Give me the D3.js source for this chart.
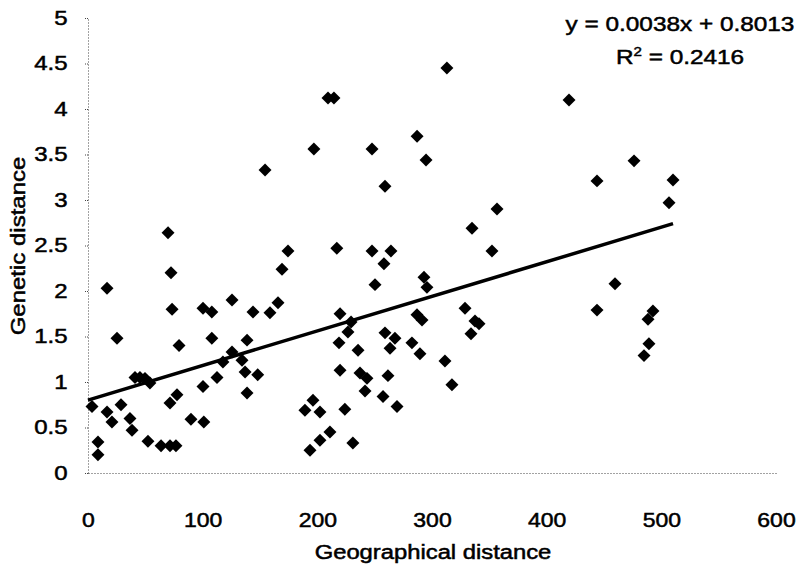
<!DOCTYPE html>
<html>
<head>
<meta charset="utf-8">
<script src="https://cdn.jsdelivr.net/npm/d3@7"></script>
<style>
  body { margin: 0; background: #fff; }
  text { font-family: "Liberation Sans", Arial, sans-serif; fill: #000; stroke: #000; stroke-width: 0.5px; }
</style>
</head>
<body>
<div id="chart"></div>
<script>
// Geographical distance (x) and genetic distance (y)
var geoDist = [
	3.5, 8.7, 8.7, 16.6, 16.6, 20.9, 25.3, 28.8, 36.6, 38.4,
	41, 45.3, 49.7, 54, 52.3, 63.7, 71.5, 76.7, 69.8, 72.4,
	73.3, 79.4, 77.6, 71.5, 89.8, 101, 100.3, 112.5, 100.3, 108,
	108, 125.6, 117.7, 125.6, 134.3, 137, 138.7, 148, 138.7, 143.9,
	158.7, 165.7, 154.4, 169.2, 174.4, 197, 209.3, 214.5, 217, 219.8,
	229.4, 226.7, 218.9, 235.5, 219.8, 237.2, 243.3, 241.6, 261.6, 257.3,
	269.5, 224, 196.2, 189.2, 202.3, 193.6, 202.3, 211, 231, 247.7,
	247.7, 264.2, 258.1, 259, 250.3, 259, 267.7, 263.4, 282.5, 289.5,
	286.9, 291.3, 287, 294.8, 293, 295.6, 313, 311.3, 317.4, 328.8,
	337.5, 341, 334, 334.9, 352.3, 356.7, 419.5, 443.9, 443.9, 459.6,
	476.2, 492.7, 488.4, 489.2, 484.9, 510.2, 506.7
];
var genDist = [
	0.73, 0.34, 0.20, 2.03, 0.67, 0.56, 1.48, 0.75, 0.60, 0.47,
	1.05, 1.05, 1.04, 0.99, 0.35, 0.30, 0.30, 0.30, 2.64, 2.20,
	1.80, 1.40, 0.86, 0.77, 0.59, 0.56, 0.95, 1.05, 1.81, 1.77,
	1.48, 1.90, 1.22, 1.33, 1.24, 1.11, 1.46, 1.08, 0.88, 1.77,
	1.76, 1.87, 3.33, 2.24, 2.44, 3.56, 4.12, 4.12, 2.47, 1.75,
	1.66, 1.55, 1.43, 1.35, 1.13, 1.10, 1.04, 0.90, 1.07, 0.84,
	0.73, 0.70, 0.80, 0.69, 0.67, 0.25, 0.36, 0.45, 0.33, 2.44,
	3.56, 2.44, 2.30, 3.15, 2.07, 1.54, 1.48, 1.37, 1.43, 1.31,
	1.74, 1.68, 3.70, 3.44, 2.15, 2.04, 4.45, 1.23, 0.97, 1.81,
	1.67, 1.64, 1.53, 2.69, 2.44, 2.90, 4.10, 3.21, 1.79, 2.08,
	3.43, 1.78, 1.69, 1.42, 1.29, 3.22, 2.97
];

var xTicks = [0, 100, 200, 300, 400, 500, 600];
var yTicks = [0, 0.5, 1, 1.5, 2, 2.5, 3, 3.5, 4, 4.5, 5];

// trendline as printed on the chart
var slope = 0.0038;
var intercept = 0.8013;
var eqLabel = 'y = 0.0038x + 0.8013';
var r2Value = '0.2416';

var chart_width = 800;
var chart_height = 566;
var plotLeft = 88, plotRight = 776, plotTop = 18, plotBottom = 473;

var svg = d3.select('#chart')
	.append('svg')
	.attr('width', chart_width)
	.attr('height', chart_height);

var x_scale = d3.scaleLinear().domain([0, 600]).range([plotLeft, plotRight]);
var y_scale = d3.scaleLinear().domain([0, 5]).range([plotBottom, plotTop]);

// axes
var x_axis = d3.axisBottom(x_scale).tickValues(xTicks).tickSize(0).tickSizeOuter(0).tickPadding(40);
var y_axis = d3.axisLeft(y_scale).tickValues(yTicks).tickSize(4).tickSizeOuter(0).tickPadding(13)
	.tickFormat(function(d){ return String(d); });

var gx = svg.append('g')
	.attr('transform', 'translate(0,' + plotBottom + ')')
	.call(x_axis);
var gy = svg.append('g')
	.attr('transform', 'translate(' + plotLeft + ',0)')
	.call(y_axis);

svg.selectAll('.domain')
	.attr('stroke', '#444')
	.attr('stroke-width', 1)
	.attr('stroke-dasharray', '1,2');
gy.selectAll('.tick line')
	.attr('stroke', '#444')
	.attr('stroke-dasharray', '1,1');

svg.selectAll('.tick text')
	.attr('font-size', 20)
	.attr('font-family', '"Liberation Sans", Arial, sans-serif')
	.attr('fill', '#000');
gx.selectAll('.tick text').attr('transform', 'scale(1.15,1)');
gy.selectAll('.tick text').attr('transform', 'scale(1.2,1)');

// points
svg.append('g')
	.selectAll('path')
	.data(geoDist)
	.enter()
	.append('path')
	.attr('d', d3.symbol(d3.symbolSquare, 84))
	.attr('transform', function(d, i){
		return 'translate(' + x_scale(d) + ',' + y_scale(genDist[i]) + ') rotate(45)';
	})
	.attr('fill', '#000');

// trend line
var xMax = d3.max(geoDist);
svg.append('line')
	.attr('x1', x_scale(0))
	.attr('y1', y_scale(intercept))
	.attr('x2', x_scale(xMax))
	.attr('y2', y_scale(slope * xMax + intercept))
	.attr('stroke', '#000')
	.attr('stroke-width', 3.5);

// labels
svg.append('text')
	.attr('transform', 'translate(433,559) scale(1.19,1)')
	.attr('text-anchor', 'middle')
	.attr('font-size', 20)
	.text('Geographical distance');

svg.append('text')
	.attr('transform', 'translate(25,246) rotate(-90) scale(1.2,1)')
	.attr('text-anchor', 'middle')
	.attr('font-size', 20)
	.text('Genetic distance');

svg.append('text')
	.attr('transform', 'translate(680,31) scale(1.16,1)')
	.attr('text-anchor', 'middle')
	.attr('font-size', 21)
	.text(eqLabel);

var r2 = svg.append('text')
	.attr('transform', 'translate(680,64) scale(1.16,1)')
	.attr('text-anchor', 'middle')
	.attr('font-size', 21);
r2.append('tspan').text('R');
r2.append('tspan').attr('font-size', 13).attr('dy', -8).text('2');
r2.append('tspan').attr('dy', 8).text(' = ' + r2Value);
</script>
</body>
</html>
